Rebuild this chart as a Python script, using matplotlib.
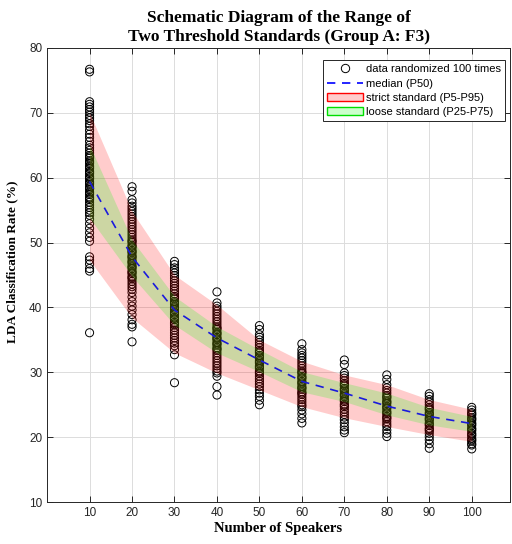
import matplotlib.pyplot as plt
from matplotlib.patches import Patch
from matplotlib.lines import Line2D

# number of speakers
speakers = [10, 20, 30, 40, 50, 60, 70, 80, 90, 100]

# percentile curves
p5 = [47.3, 38.4, 33.0, 29.9, 27.3, 24.7, 23.0, 21.65, 20.4, 19.35]
p25 = [53.8, 44.8, 37.3, 33.0, 30.1, 27.0, 25.5, 23.45, 21.9, 20.9]
p50 = [59.4, 47.8, 39.6, 35.3, 31.9, 28.6, 26.8, 24.8, 23.2, 22.1]
p75 = [65.0, 50.4, 41.7, 37.05, 33.5, 30.1, 28.4, 26.8, 24.6, 23.2]
p95 = [70.0, 54.8, 45.0, 40.4, 35.0, 31.7, 29.6, 28.1, 25.8, 24.3]

# randomized results (distinct values visible in each column)
runs_10 = [76.7, 76.3, 71.7, 71.3, 70.9, 70.5, 70.1, 69.6, 69.2, 68.8, 68.3, 67.9,
           67.3, 66.7, 66.2, 65.6, 65.0, 64.6, 64.2, 63.8, 63.4, 63.0, 62.6, 62.2,
           61.8, 61.4, 61.0, 60.6, 60.2, 59.8, 59.4, 59.0, 58.6, 58.2, 57.8, 57.4,
           57.0, 56.6, 56.2, 55.8, 55.4, 55.0, 54.6, 54.2, 53.6, 52.9, 52.2, 51.5,
           50.8, 50.2, 47.8, 47.3, 46.7, 46.0, 45.6, 36.1,
           63.2, 62.4, 61.6, 60.8, 60.0, 59.2, 58.4, 57.6, 56.8]
runs_20 = [58.6, 57.9, 56.6, 56.1, 55.6, 55.2, 54.8, 54.4, 54.0, 53.6, 53.2, 52.8,
           52.4, 52.0, 51.6, 51.2, 50.8, 50.4, 50.0, 49.6, 49.2, 48.8, 48.4, 48.0,
           47.6, 47.2, 46.8, 46.4, 46.0, 45.6, 45.2, 44.8, 44.4, 44.0, 43.6, 43.2,
           42.8, 42.3, 41.6, 40.9, 40.2, 39.6, 38.9, 38.1, 37.4, 37.0, 34.7,
           50.2, 49.4, 48.6, 47.8, 47.0, 46.2, 45.4, 44.6]
runs_30 = [47.1, 46.6, 46.1, 45.7, 45.3, 44.9, 44.5, 44.1, 43.7, 43.3, 42.9, 42.5,
           42.1, 41.7, 41.3, 40.9, 40.5, 40.1, 39.7, 39.3, 38.9, 38.5, 38.1, 37.7,
           37.3, 36.9, 36.5, 36.1, 35.7, 35.3, 34.9, 34.5, 34.1, 33.5, 32.7, 28.4,
           41.5, 40.7, 39.9, 39.1, 38.3, 37.5]
runs_40 = [42.4, 40.7, 40.2, 39.8, 39.4, 39.0, 38.6, 38.2, 37.8, 37.4, 37.0, 36.6,
           36.2, 35.8, 35.4, 35.0, 34.6, 34.2, 33.8, 33.4, 33.0, 32.6, 32.2, 31.8,
           31.4, 31.0, 30.6, 30.2, 29.9, 29.4, 27.8, 26.5,
           36.8, 36.0, 35.2, 34.4, 33.6]
runs_50 = [37.2, 36.6, 35.8, 35.4, 35.0, 34.6, 34.2, 33.8, 33.4, 33.0, 32.6, 32.2,
           31.8, 31.4, 31.0, 30.6, 30.2, 29.8, 29.4, 29.0, 28.6, 28.2, 27.8, 27.3,
           26.8, 26.3, 25.7, 25.0,
           33.2, 32.4, 31.6, 30.8, 30.0]
runs_60 = [34.4, 33.5, 33.0, 32.6, 32.2, 31.8, 31.4, 31.0, 30.6, 30.2, 29.8, 29.4,
           29.0, 28.6, 28.2, 27.8, 27.4, 27.0, 26.6, 26.2, 25.8, 25.4, 25.0, 24.7,
           24.2, 23.6, 22.9, 22.2,
           30.0, 29.2, 28.4, 27.6, 26.8]
runs_70 = [31.9, 31.2, 29.9, 29.5, 29.1, 28.7, 28.3, 27.9, 27.5, 27.1, 26.7, 26.3,
           25.9, 25.5, 25.1, 24.7, 24.3, 23.9, 23.5, 23.1, 22.7, 22.2, 21.6, 21.1, 20.7,
           28.1, 27.3, 26.5, 25.7, 24.9]
runs_80 = [29.6, 28.9, 28.1, 27.6, 27.2, 26.8, 26.4, 26.0, 25.6, 25.2, 24.8, 24.4,
           24.0, 23.6, 23.2, 22.8, 22.4, 22.0, 21.65, 21.1, 20.6, 20.1,
           26.2, 25.4, 24.6, 23.8, 23.0]
runs_90 = [26.7, 26.3, 25.8, 25.4, 25.0, 24.6, 24.2, 23.8, 23.4, 23.0, 22.6, 22.2,
           21.8, 21.4, 21.0, 20.6, 20.1, 19.6, 19.0, 18.3,
           24.4, 23.6, 22.8, 22.0, 21.2]
runs_100 = [24.6, 24.2, 23.8, 23.4, 23.0, 22.6, 22.2, 21.8, 21.4, 21.0, 20.6, 20.2,
            19.8, 19.4, 19.0, 18.8, 18.2,
            23.6, 22.8, 22.0, 21.2, 20.4, 19.6]
runs = [runs_10, runs_20, runs_30, runs_40, runs_50,
        runs_60, runs_70, runs_80, runs_90, runs_100]

plt.rcParams['font.family'] = ['Liberation Sans', 'DejaVu Sans']
fig = plt.figure(figsize=(5.12, 5.44), dpi=100)
ax = fig.add_axes([0.092, 0.077, 0.904, 0.835])

for n, vals in zip(speakers, runs):
    ax.scatter([n] * len(vals), vals, s=34, facecolors='none', edgecolors='black',
               linewidths=0.7, zorder=2)

ax.fill_between(speakers, p5, p95, color='red', alpha=0.2, lw=0, zorder=3)
ax.fill_between(speakers, p25, p75, color=(0, 1, 0), alpha=0.2, lw=0, zorder=4)
ax.plot(speakers, p50, '--', color='#1a1adc', lw=1.2, dashes=(5, 4), zorder=5)

ax.set_xlim(0, 109)
ax.set_ylim(10, 80)
ax.set_xticks(speakers)
ax.set_yticks(range(10, 81, 10))
ax.tick_params(direction='in', top=True, right=True, labelsize=8.5, colors='#262626',
               length=4, width=0.7)
ax.grid(True, color='#dcdcdc', lw=0.7)
ax.set_axisbelow(True)
for s in ax.spines.values():
    s.set_color('#262626')
    s.set_linewidth(0.7)

serif = ['Liberation Serif', 'DejaVu Serif']
ax.set_title('Schematic Diagram of the Range of\nTwo Threshold Standards (Group A: F3)',
             fontfamily=serif, fontweight='bold', fontsize=12.5, pad=5,
             linespacing=1.25)
ax.set_xlabel('Number of Speakers', fontfamily=serif, fontweight='bold', fontsize=10.5,
              labelpad=2)
ax.set_ylabel('LDA Classification Rate (%)', fontfamily=serif, fontweight='bold',
              fontsize=9.5, labelpad=10)
ax.yaxis.set_label_coords(-0.062, 0.53)

handles = [
    Line2D([], [], ls='none', marker='o', markerfacecolor='none',
           markeredgecolor='black', markersize=6, markeredgewidth=0.7),
    Line2D([], [], ls='--', color='blue', lw=1.2, dashes=(5, 4)),
    Patch(facecolor='#ffcccc', edgecolor='red', lw=1),
    Patch(facecolor='#ccffcc', edgecolor='#00dd00', lw=1),
]
labels = ['data randomized 100 times', 'median (P50)',
          'strict standard (P5-P95)', 'loose standard (P25-P75)']
leg = ax.legend(handles, labels, loc='upper right', fontsize=8, fancybox=False,
                edgecolor='#262626', framealpha=1, borderaxespad=0,
                bbox_to_anchor=(0.987, 0.89), bbox_transform=fig.transFigure,
                handlelength=3.2, labelspacing=0.38, borderpad=0.4, handletextpad=0.3)
leg.get_frame().set_linewidth(0.7)

fig.savefig('out.png', dpi=100)
